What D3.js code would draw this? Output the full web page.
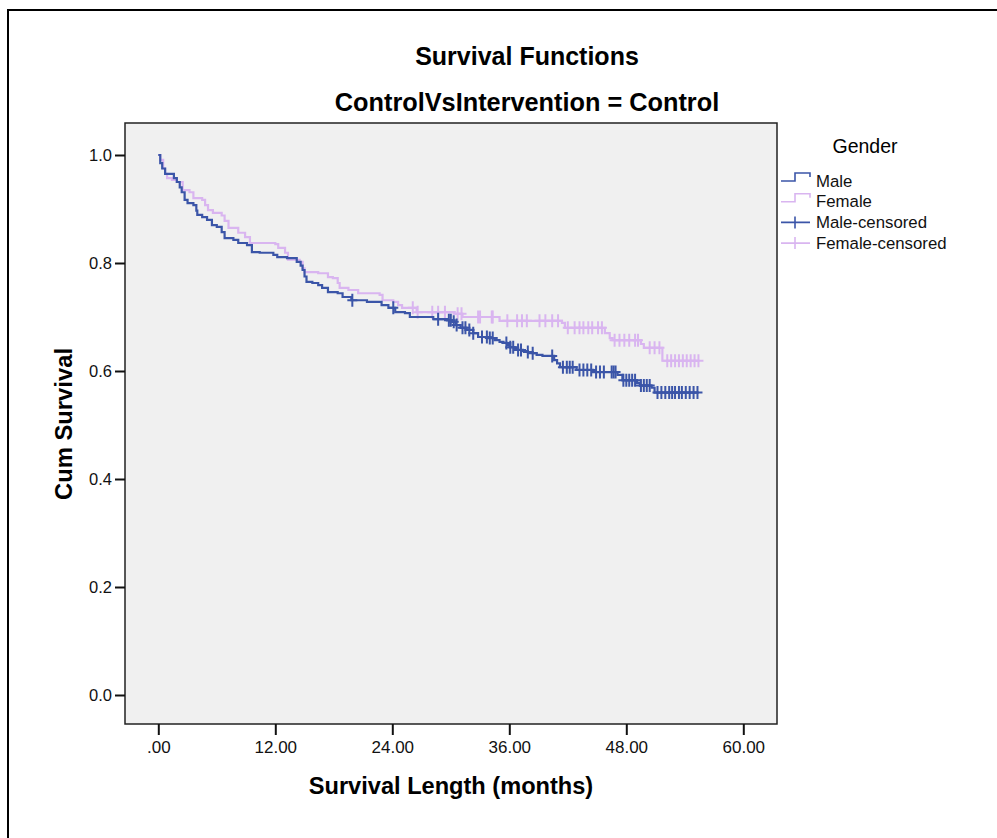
<!DOCTYPE html>
<html>
<head>
<meta charset="utf-8">
<script src="https://cdn.jsdelivr.net/npm/d3@7"></script>
<style>
  body { margin: 0; background: #fff; }
  text { font-family: "Liberation Sans", Arial, sans-serif; }
</style>
</head>
<body>
<div id="chart"></div>
<script>
// Kaplan-Meier steps: [month, cumulative survival after the step]
var maleSteps = [[0.2,0.985],[0.4,0.975],[0.7,0.965],[1.6,0.957],[1.9,0.950],[2.2,0.940],[2.4,0.931],[2.7,0.917],[3.0,0.911],
    [3.6,0.907],[3.9,0.897],[4.0,0.889],[4.5,0.885],[5.0,0.880],[5.5,0.870],[6.0,0.867],[6.5,0.857],[6.8,0.846],[7.7,0.843],
    [8.2,0.837],[9.1,0.833],[9.6,0.820],[10.4,0.819],[11.8,0.815],[12.2,0.811],[13.2,0.809],[14.2,0.802],[14.6,0.795],
    [14.8,0.787],[15.0,0.775],[15.2,0.765],[15.8,0.763],[16.4,0.759],[16.8,0.754],[17.4,0.746],[18.4,0.744],[18.9,0.737],
    [19.8,0.731],[21.4,0.728],[22.9,0.722],[23.6,0.717],[24.3,0.709],[25.3,0.707],[25.8,0.700],[28.2,0.696],[29.6,0.694],
    [30.2,0.691],[30.5,0.685],[31.0,0.680],[31.6,0.676],[32.3,0.670],[32.8,0.663],[33.8,0.661],[34.5,0.657],[35.0,0.654],
    [35.4,0.652],[35.8,0.648],[36.1,0.644],[36.6,0.643],[36.9,0.639],[37.4,0.637],[37.9,0.635],[38.4,0.633],[38.8,0.630],
    [39.4,0.628],[40.6,0.620],[40.9,0.614],[41.2,0.607],[42.9,0.602],[44.6,0.598],[47.1,0.593],[47.6,0.583],[49.1,0.578],
    [49.4,0.573],[50.6,0.569],[50.9,0.560]];
var maleEnd = 55.4;
var maleCensored = [19.9, 24.1, 28.7, 29.8, 30.0, 30.3, 30.6, 31.2, 31.5, 31.9, 32.3, 33.2, 33.7, 34.0, 34.3, 35.7, 36.1,
    36.4, 36.9, 37.2, 37.9, 38.4, 40.4, 41.5, 41.9, 42.2, 42.5, 43.2, 43.6, 44.0, 44.4, 44.9, 45.3, 45.7, 46.5, 46.7, 46.9,
    47.7, 48.0, 48.3, 48.6, 48.9, 49.5, 49.8, 50.1, 50.4, 51.2, 51.6, 52.0, 52.4, 52.7, 53.0, 53.4, 53.7, 54.1, 54.5, 54.9, 55.3];

var femaleSteps = [[0.2,0.991],[0.5,0.975],[0.7,0.965],[0.9,0.957],[1.4,0.954],[1.9,0.950],[2.5,0.935],[3.2,0.931],
    [3.6,0.920],[4.5,0.917],[4.8,0.907],[5.1,0.898],[5.6,0.893],[6.5,0.888],[6.8,0.878],[7.2,0.865],[8.2,0.856],[8.9,0.848],
    [9.4,0.837],[12.0,0.835],[12.3,0.828],[13.0,0.819],[13.3,0.806],[14.5,0.802],[14.8,0.790],[15.0,0.783],[16.4,0.781],
    [17.4,0.774],[17.9,0.772],[18.4,0.763],[18.6,0.754],[19.5,0.750],[20.5,0.744],[22.7,0.741],[23.0,0.731],[24.1,0.728],
    [24.6,0.722],[25.0,0.717],[26.5,0.709],[30.4,0.706],[31.2,0.700],[35.0,0.693],[41.4,0.689],[41.7,0.680],[45.8,0.670],
    [46.3,0.661],[46.6,0.657],[49.5,0.650],[49.8,0.643],[51.7,0.619]];
var femaleEnd = 55.4;
var femaleCensored = [26.1, 26.6, 28.1, 28.7, 29.4, 30.7, 31.1, 32.8, 33.0, 34.2, 34.3, 35.8, 36.8, 37.3, 37.8, 39.1, 39.7,
    40.4, 41.0, 42.0, 42.7, 43.2, 43.6, 44.1, 44.5, 45.1, 45.5, 46.8, 47.3, 47.8, 48.3, 48.9, 49.2, 50.4, 50.9, 51.4,
    52.2, 52.6, 53.0, 53.4, 53.8, 54.2, 54.6, 55.0, 55.4];

var xTicks = [0, 12, 24, 36, 48, 60];
var yTicks = [0, 0.2, 0.4, 0.6, 0.8, 1.0];
var groups = ["Male", "Female"];

var width = 997, height = 838;
var maleColor = "#3b55a8", femaleColor = "#d9b5f0";

var svg = d3.select("#chart").append("svg")
    .attr("width", width)
    .attr("height", height);

// outer frame (runs off the right and bottom)
svg.append("rect")
    .attr("x", 8).attr("y", 10)
    .attr("width", 1200).attr("height", 1200)
    .attr("fill", "none").attr("stroke", "#000").attr("stroke-width", 2);

var plotL = 125, plotT = 123, plotR = 777, plotB = 724;

var x = d3.scaleLinear().domain([0, 60]).range([158.3, 743.3]);
var y = d3.scaleLinear().domain([0, 1]).range([695, 155]);

svg.append("rect")
    .attr("x", plotL).attr("y", plotT)
    .attr("width", plotR - plotL).attr("height", plotB - plotT)
    .attr("fill", "#f0f0f0").attr("stroke", "#222").attr("stroke-width", 1.5);

// axes
var xAxis = svg.append("g")
    .attr("transform", "translate(0," + plotB + ")")
    .call(d3.axisBottom(x).tickValues(xTicks).tickSize(11).tickSizeOuter(0)
        .tickFormat(function (d) { return d == 0 ? ".00" : d3.format(".2f")(d); }));
xAxis.select(".domain").remove();
xAxis.selectAll("line").attr("stroke", "#111").attr("stroke-width", 2);
xAxis.selectAll("text").attr("dy", "0.9em").style("font-size", "17px").attr("fill", "#111");

var yAxis = svg.append("g")
    .attr("transform", "translate(" + plotL + ",0)")
    .call(d3.axisLeft(y).tickValues(yTicks).tickSize(10).tickSizeOuter(0).tickFormat(d3.format(".1f")));
yAxis.select(".domain").remove();
yAxis.selectAll("line").attr("stroke", "#111").attr("stroke-width", 2);
yAxis.selectAll("text").attr("x", -13).style("font-size", "16.5px").attr("fill", "#111");

// titles
svg.append("text").attr("x", 527).attr("y", 65)
    .attr("text-anchor", "middle").style("font-size", "25px").style("font-weight", "bold")
    .text("Survival Functions");
svg.append("text").attr("x", 527).attr("y", 111)
    .attr("text-anchor", "middle").style("font-size", "25.3px").style("font-weight", "bold")
    .text("ControlVsIntervention = Control");
svg.append("text").attr("x", 451).attr("y", 794)
    .attr("text-anchor", "middle").style("font-size", "23.6px").style("font-weight", "bold")
    .text("Survival Length (months)");
svg.append("text")
    .attr("transform", "translate(72,424) rotate(-90)")
    .attr("text-anchor", "middle").style("font-size", "23.8px").style("font-weight", "bold")
    .text("Cum Survival");

// survival curves
function curvePoints(steps, end) {
    var pts = [[0, 1]].concat(steps);
    pts.push([end, steps[steps.length - 1][1]]);
    return pts;
}
function survAt(steps, t) {
    var s = 1;
    for (var i = 0; i < steps.length; i++) {
        if (steps[i][0] <= t) s = steps[i][1];
    }
    return s;
}

var line = d3.line()
    .x(function (d) { return x(d[0]); })
    .y(function (d) { return y(d[1]); })
    .curve(d3.curveStepAfter);

function drawGroup(steps, end, censored, color) {
    svg.append("path")
        .datum(curvePoints(steps, end))
        .attr("d", line)
        .attr("fill", "none")
        .attr("stroke", color)
        .attr("stroke-width", 2.2);

    svg.selectAll(null)
        .data(censored)
        .enter()
        .append("path")
        .attr("d", function (d) {
            var cx = x(d), cy = y(survAt(steps, d));
            return "M" + (cx - 5) + "," + cy + "H" + (cx + 5) + "M" + cx + "," + (cy - 6.5) + "V" + (cy + 6.5);
        })
        .attr("fill", "none")
        .attr("stroke", color)
        .attr("stroke-width", 2);
}

drawGroup(femaleSteps, femaleEnd, femaleCensored, femaleColor);
drawGroup(maleSteps, maleEnd, maleCensored, maleColor);

// legend
svg.append("text").attr("x", 865).attr("y", 153)
    .attr("text-anchor", "middle").style("font-size", "19.5px")
    .text("Gender");

var legendItems = [
    { label: groups[0], color: maleColor, censor: false },
    { label: groups[1], color: femaleColor, censor: false },
    { label: groups[0] + "-censored", color: maleColor, censor: true },
    { label: groups[1] + "-censored", color: femaleColor, censor: true }
];
var legend = svg.selectAll(".legend")
    .data(legendItems)
    .enter()
    .append("g")
    .attr("transform", function (d, i) { return "translate(0," + (181 + i * 20.7) + ")"; });
legend.append("path")
    .attr("d", function (d) {
        return d.censor ? "M781,0H810M795,-6V6" : "M781,0H795V-8H810V-4";
    })
    .attr("fill", "none")
    .attr("stroke", function (d) { return d.color; })
    .attr("stroke-width", 1.6);
legend.append("text")
    .attr("x", 816).attr("y", 5.5)
    .style("font-size", "16.8px")
    .attr("fill", "#111")
    .text(function (d) { return d.label; });
</script>
</body>
</html>
